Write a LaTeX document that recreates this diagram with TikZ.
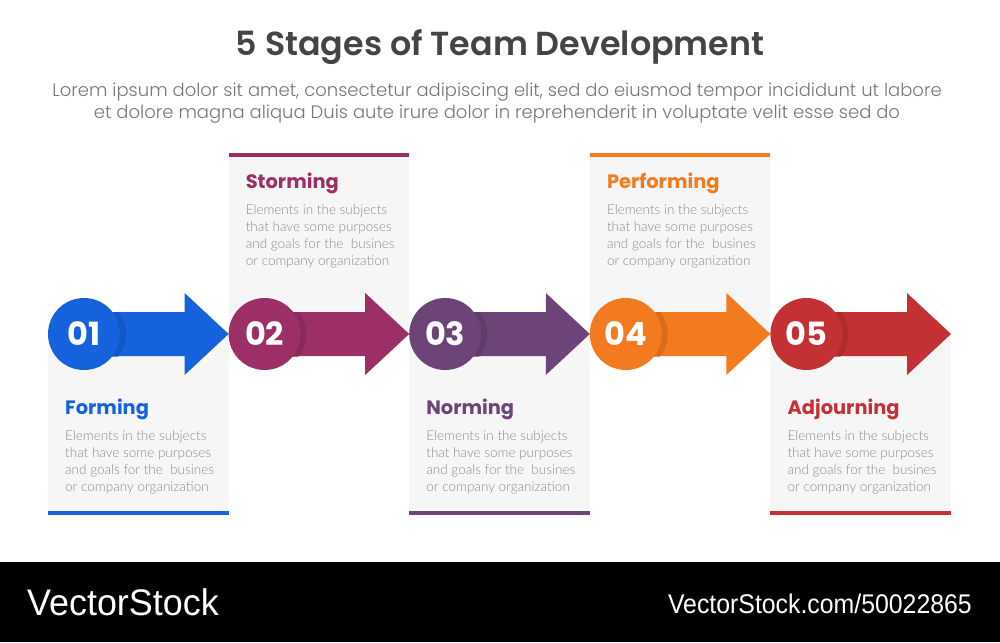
\documentclass[tikz,border=0pt]{standalone}
\usepackage{fontspec}
\setmainfont{Lato}
\newfontfamily\titlefont{Poppins SemiBold}
\newfontfamily\leadfont{Poppins Light}
\newfontfamily\headfont{Poppins Bold}
\newfontfamily\descfont{Lato Light}
\newfontfamily\markfont{Liberation Sans}
\definecolor{cForm}{HTML}{1662DC}
\definecolor{cStorm}{HTML}{9B2F66}
\definecolor{cNorm}{HTML}{6C4478}
\definecolor{cPerf}{HTML}{F47A20}
\definecolor{cAdj}{HTML}{C33134}
\definecolor{panel}{HTML}{F6F6F6}
\definecolor{ink}{HTML}{444444}
\definecolor{leadgray}{HTML}{777777}
\definecolor{descgray}{HTML}{8C8C8C}
\tikzset{
  stagebox/.style={fill=panel},
  numcircle/.style={circle, minimum size=72pt, inner sep=0pt, text=white,
    font=\headfont\fontsize{32}{32}\selectfont},
  stagehead/.style={anchor=west, inner sep=0pt, font=\headfont\fontsize{19.4}{21}\selectfont},
  stagedesc/.style={anchor=north west, align=left, inner sep=0pt, text=descgray,
    font=\descfont\fontsize{13.5}{17}\selectfont},
}
\newcommand{\descline}{Elements in the subjects\\that have some purposes\\and goals for the~ busines\\or company organization}

\begin{document}
\begin{tikzpicture}[x=1pt,y=-1pt]
  \useasboundingbox (0,0) rectangle (1000,642);

  % title and lead text
  \node[text=ink, font=\titlefont\fontsize{33.3}{33}\selectfont] (title) at (500,47) {5 Stages of Team Development};
  \node[text=leadgray, align=center, font=\leadfont\fontsize{18}{22}\selectfont] (lead) at (497,103)
    {Lorem ipsum dolor sit amet, consectetur adipiscing elit, sed do eiusmod tempor incididunt ut labore\\
     et dolore magna aliqua Duis aute irure dolor in reprehenderit in voluptate velit esse sed do};

  % stages
  \foreach \i/\num/\name/\col in {0/01/Forming/cForm, 1/02/Storming/cStorm, 2/03/Norming/cNorm,
                                  3/04/Performing/cPerf, 4/05/Adjourning/cAdj} {
    \pgfmathsetmacro{\L}{48+180.6*\i}
    \pgfmathsetmacro{\R}{\L+180.6}
    \ifodd\i
      \fill[stagebox] (\L,153) rectangle (\R,334);
      \fill[\col] (\L,153) rectangle (\R,157);
      \node[stagehead, text=\col] (head\num) at (\L+17,183) {\name};
      \node[stagedesc] (desc\num) at (\L+17,204.5) {\descline};
    \else
      \fill[stagebox] (\L,334) rectangle (\R,515);
      \fill[\col] (\L,511) rectangle (\R,515);
      \node[stagehead, text=\col] (head\num) at (\L+17,409) {\name};
      \node[stagedesc] (desc\num) at (\L+17,430.5) {\descline};
    \fi
    % arrow
    \fill[\col] (\L+36,312) -- (\R-44,312) -- (\R-44,293) -- (\R,334)
      -- (\R-44,375) -- (\R-44,356) -- (\L+36,356) -- cycle;
    \begin{scope}
      \clip (\L+36,312) rectangle (\R-44,356);
      \fill[\col!82!black, opacity=0.6] (\L+42,334) circle[radius=36pt];
    \end{scope}
    \node[numcircle, fill=\col] (num\num) at (\L+36,334) {\num};
  }

  % footer
  \fill[black] (0,562) rectangle (1000,642);
  \node[anchor=west, inner sep=0pt, text=white, font=\markfont\fontsize{37}{37}\selectfont] (brand) at (27,602)
    {\scalebox{0.97}[1]{VectorStock}};
  \node[anchor=east, inner sep=0pt, text=white, font=\markfont\fontsize{27}{27}\selectfont] (link) at (972,604)
    {\scalebox{0.92}[1]{VectorStock.com/50022865}};
\end{tikzpicture}
\end{document}
